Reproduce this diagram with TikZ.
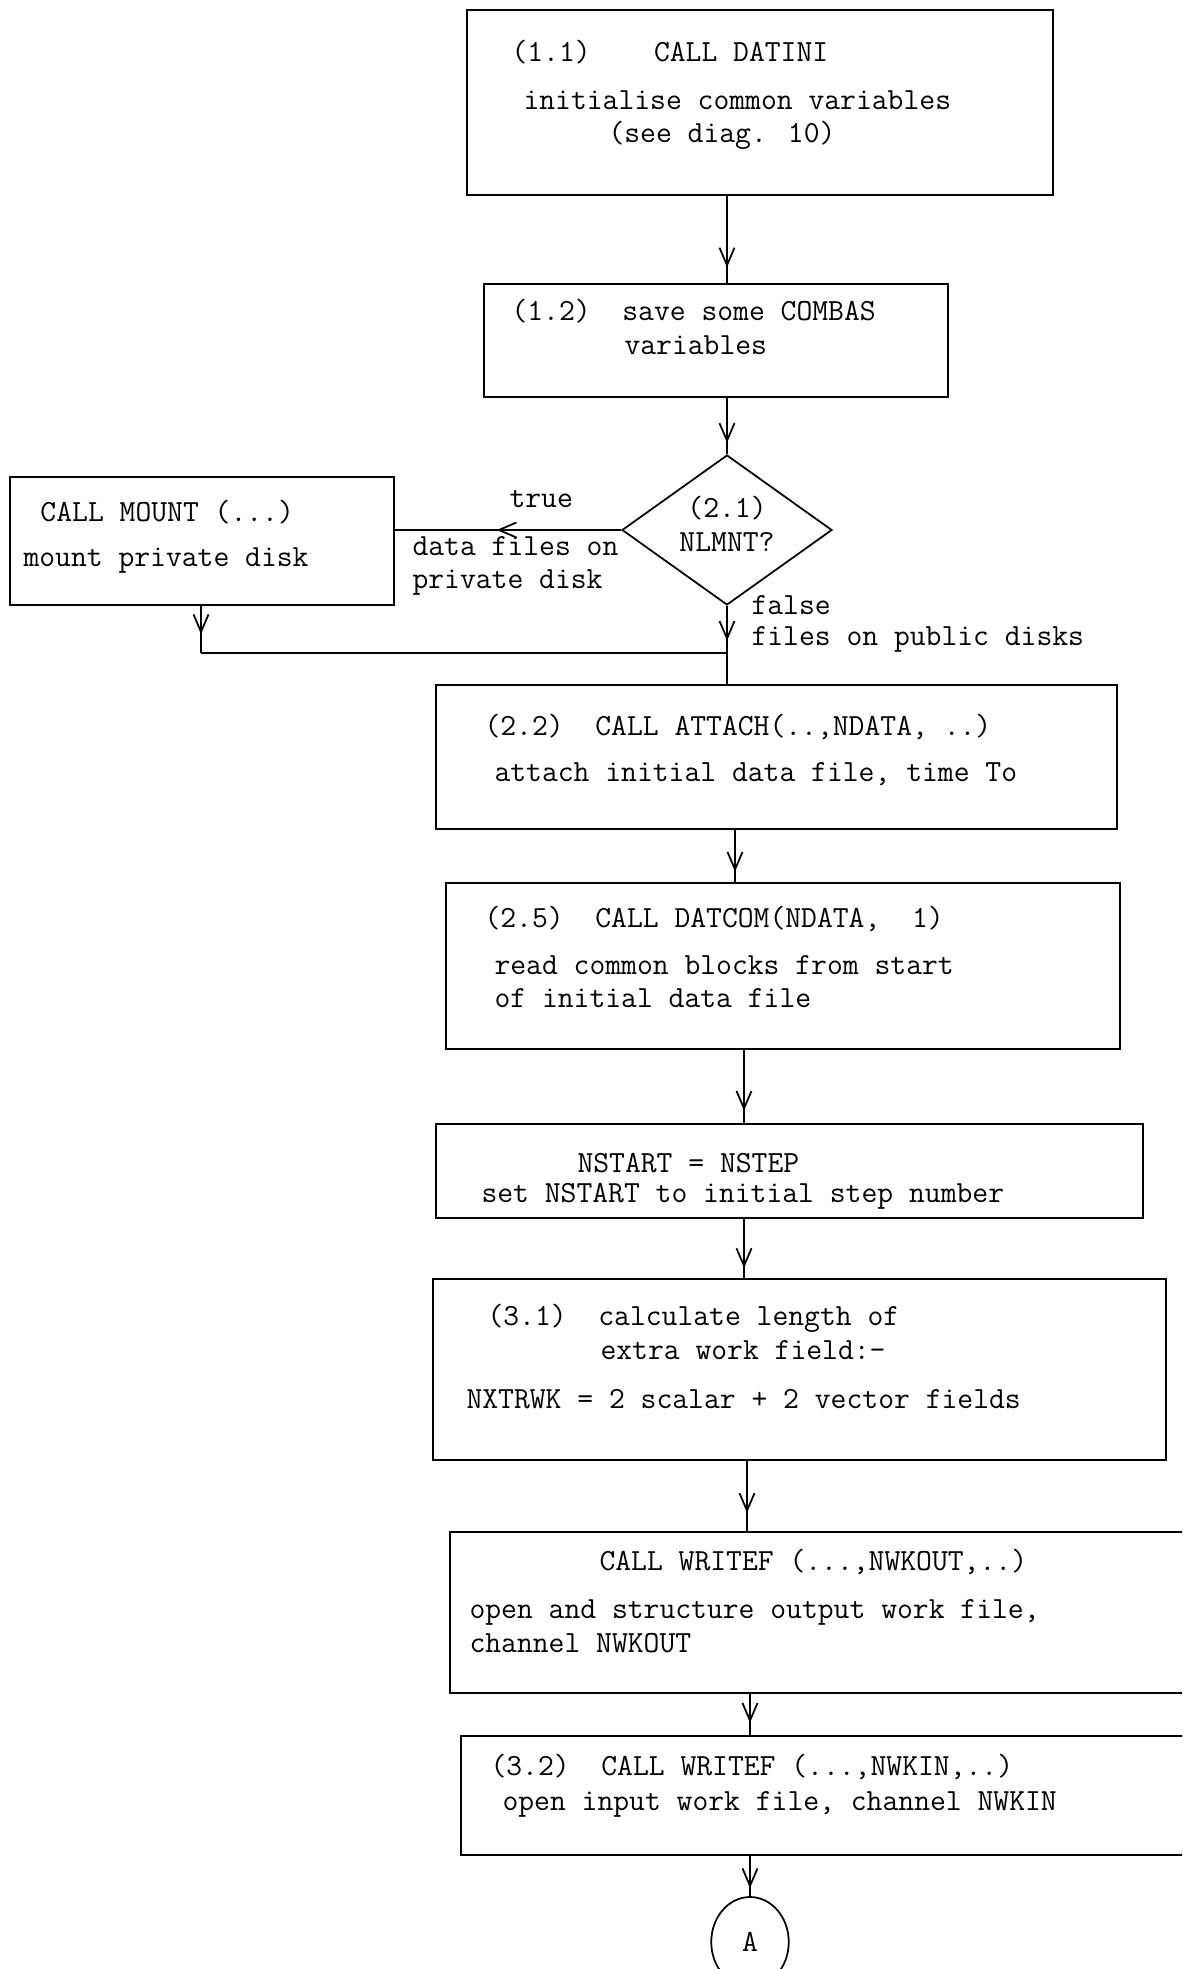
\documentclass[tikz,border=0pt]{standalone}
\usetikzlibrary{fit,shapes.geometric,arrows.meta,decorations.markings}
\begin{document}
\tikzset{
  box/.style={draw, line width=0.7pt, inner sep=0pt, rectangle},
  txt/.style={anchor=west, inner sep=0pt, font=\ttfamily\fontsize{12.3}{14}\selectfont, text height=7pt, text depth=2pt},
  ctxt/.style={txt, anchor=center},
  conn/.style={line width=0.7pt},
  arrowat/.style={postaction={decorate}, decoration={markings, mark=at position #1 with {\arrow{Straight Barb[length=7pt,width=6pt]}}}}
}
\begin{tikzpicture}[x=0.4pt,y=-0.4pt]
\useasboundingbox (0,0) rectangle (1182,1969);
\clip (0,0) rectangle (1182,1969);
\fill[white] (0,0) rectangle (1182,1969);

% boxes
\node[box, fit={(467,10) (1053,195)}] (b11) {};
\node[box, fit={(484,284) (948,397)}] (b12) {};
\node[box, diamond, minimum width=84pt, minimum height=60pt] (d21) at (727,530) {};
\node[box, fit={(10,477) (394,605)}] (mnt) {};
\node[box, fit={(436,685) (1117,829)}] (b22) {};
\node[box, fit={(446,883) (1120,1049)}] (b25) {};
\node[box, fit={(436,1124) (1143,1218)}] (bns) {};
\node[box, fit={(433,1279) (1166,1460)}] (b31) {};
\node[box, fit={(450,1532) (1200,1693)}] (bwo) {};
\node[box, fit={(461,1736) (1200,1855)}] (b32) {};
\node[box, ellipse, minimum width=31pt, minimum height=36pt, font=\ttfamily\fontsize{12.3}{14}\selectfont] (cA) at (750,1942) {A};

% connectors
\coordinate (j) at (727,653);
\coordinate (mx) at (201,653);
\coordinate (x2) at (735,0);
\coordinate (x3) at (744,0);
\coordinate (x4) at (747,0);
\coordinate (x5) at (750,0);
\draw[conn, arrowat=0.82] (b11.south -| d21.north) -- (b12.north -| d21.north);
\draw[conn, arrowat=0.8] (b12.south -| d21.north) -- (d21.north);
\draw[conn, arrowat=0.55] (d21.west) -- (mnt.east |- d21.west);
\draw[conn, arrowat=0.74] (d21.south) -- (j);
\draw[conn, arrowat=0.6] (mnt.south -| mx) -- (mx);
\draw[conn] (mx) -- (j);
\draw[conn] (j) -- (b22.north -| j);
\draw[conn, arrowat=0.8] (b22.south -| x2) -- (b25.north -| x2);
\draw[conn, arrowat=0.83] (b25.south -| x3) -- (bns.north -| x3);
\draw[conn, arrowat=0.83] (bns.south -| x3) -- (b31.north -| x3);
\draw[conn, arrowat=0.74] (b31.south -| x4) -- (bwo.north -| x4);
\draw[conn, arrowat=0.7] (bwo.south -| x5) -- (b32.north -| x5);
\draw[conn, arrowat=0.8] (b32.south -| cA.north) -- (cA.north);

% texts
\node[txt] (t11a) at (511,55) {(1.1)~~~~CALL DATINI};
\node[txt] (t11b) at (523,103) {initialise common variables};
\node[txt] (t11c) at (608,136) {(see diag. 10)};
\node[txt] (t12a) at (511,314) {(1.2)~~save some COMBAS};
\node[txt] (t12b) at (624,348) {variables};
\node[ctxt] (t21a) at (727,511) {(2.1)};
\node[ctxt] (t21b) at (727,545) {NLMNT?};
\node[txt] (tm1) at (40,515) {CALL MOUNT (...)};
\node[txt] (tm2) at (23,560) {mount private disk};
\node[txt] (ltrue) at (509,501) {true};
\node[txt] (ld1) at (412,549) {data files on};
\node[txt] (ld2) at (412,582) {private disk};
\node[txt] (lf1) at (751,608) {false};
\node[txt] (lf2) at (751,639) {files on public disks};
\node[txt] (t22a) at (484,729) {(2.2)~~CALL ATTACH(..,NDATA, ..)};
\node[txt] (t22b) at (494,775) {attach initial data file, time To};
\node[txt] (t25a) at (484,921) {(2.5)~~CALL DATCOM(NDATA,~~1)};
\node[txt] (t25b) at (494,968) {read common blocks from start};
\node[txt] (t25c) at (494,1001) {of initial data file};
\node[txt] (tns1) at (577,1166) {NSTART = NSTEP};
\node[txt] (tns2) at (481,1196) {set NSTART to initial step number};
\node[txt] (t31a) at (487,1319) {(3.1)~~calculate length of};
\node[txt] (t31b) at (600,1353) {extra work field:-};
\node[txt] (t31c) at (466,1402) {NXTRWK = 2 scalar + 2 vector fields};
\node[txt] (two1) at (599,1564) {CALL WRITEF (...,NWKOUT,..)};
\node[txt] (two2) at (469,1612) {open and structure output work file,};
\node[txt] (two3) at (469,1646) {channel NWKOUT};
\node[txt] (t32a) at (490,1769) {(3.2)~~CALL WRITEF (...,NWKIN,..)};
\node[txt] (t32b) at (502,1804) {open input work file, channel NWKIN};
\end{tikzpicture}
\end{document}
